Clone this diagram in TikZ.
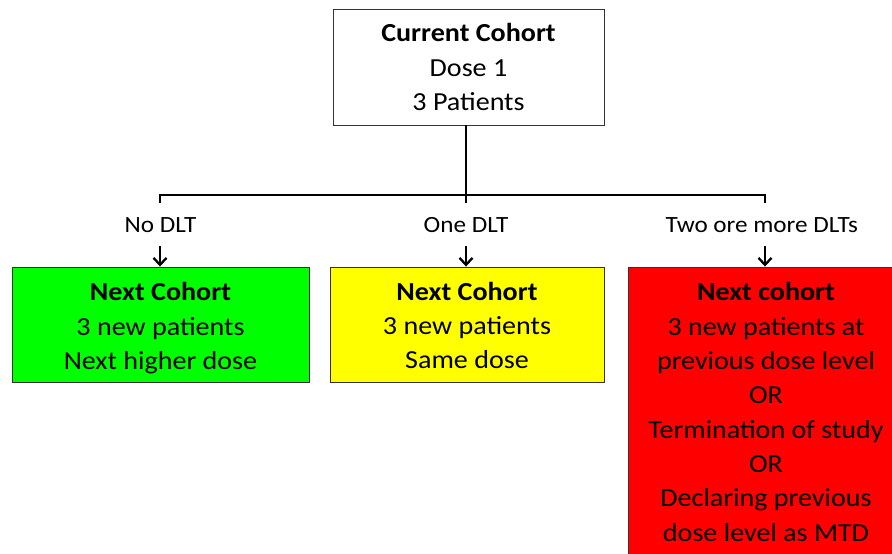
\documentclass[tikz,border=0pt]{standalone}
\usepackage{fontspec}
\setmainfont{Carlito}[FakeStretch=1.08]
\usetikzlibrary{arrows.meta}
\definecolor{boxgreen}{HTML}{00FF00}
\definecolor{boxyellow}{HTML}{FFFF00}
\definecolor{boxred}{HTML}{FF0000}
\newcommand{\lowerstrut}{\rule{0pt}{25.5pt}}
\newcommand{\depthstrut}{\rule[-5.6pt]{0pt}{1pt}}
\begin{document}
\begin{tikzpicture}[x=1pt,y=-1pt,
 box/.style={draw=black!80, line width=0.9pt, inner sep=0pt, align=center, font=\fontsize{26}{34.3}\selectfont},
 lbl/.style={font=\fontsize{23.3}{28}\selectfont, anchor=base, inner sep=0pt},
 conn/.style={line width=2.7pt},
 arr/.style={line width=2.3pt, -{Straight Barb[length=7pt,width=13pt]}}]
\useasboundingbox (0,0) rectangle (892,554);
\clip (0,0) rectangle (892,554);
\node[box, fill=white, minimum width=271, minimum height=116] (top) at (468.5,67) {\textbf{Current Cohort}\\Dose 1\\3 Patients};
\node[box, fill=boxgreen, minimum width=297, minimum height=115] (green) at (160.5,324.5) {\lowerstrut\textbf{Next Cohort}\\3 new patients\\Next higher dose};
\node[box, fill=boxyellow, minimum width=274, minimum height=115] (yellow) at (467,324.5) {\lowerstrut\textbf{Next Cohort}\\3 new patients\\Same dose\depthstrut};
\node[box, fill=boxred, minimum width=276, minimum height=290] (red) at (766,412) {\textbf{Next cohort}\\3 new patients at\\previous dose level\\OR\\Termination of study\\OR\\Declaring previous\\dose level as MTD};
\coordinate (jl) at (160,195);
\coordinate (jm) at (466,195);
\coordinate (jr) at (765,195);
\coordinate (tl) at (160,203);
\coordinate (tm) at (466,203);
\coordinate (tr) at (765,203);
\draw[conn] (top.south -| jm) -- (tm);
\draw[conn] (tl) -- (jl) -- (jr) -- (tr);
\node[lbl] (l1) at (160.5,232.7) {No DLT};
\node[lbl] (l2) at (466,232.7) {One DLT};
\node[lbl] (l3) at (761.7,232.7) {Two ore more DLTs};
\coordinate (a1) at (160,246);
\coordinate (a2) at (466,246);
\coordinate (a3) at (765,246);
\draw[arr] (a1) -- (a1 |- green.north);
\draw[arr] (a2) -- (a2 |- yellow.north);
\draw[arr] (a3) -- (a3 |- red.north);
\end{tikzpicture}
\end{document}
